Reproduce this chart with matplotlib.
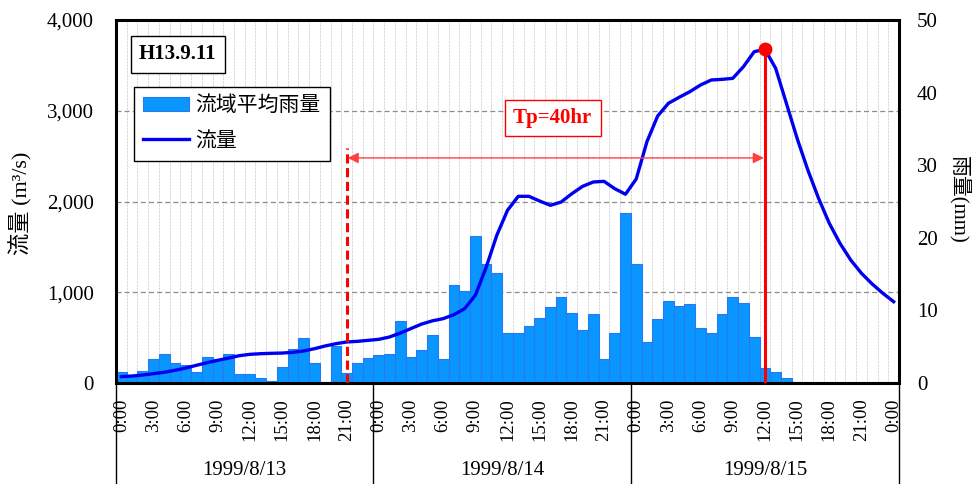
import numpy as np
import matplotlib
matplotlib.use("Agg")
import matplotlib.pyplot as plt
from matplotlib.ticker import FuncFormatter

plt.rcParams['font.family'] = ['Liberation Serif', 'Noto Sans CJK JP']

# hourly data, 1999/8/13 0:00 -> 1999/8/16 0:00
rain = [1.5, 1.1, 1.7, 3.3, 4.0, 2.7, 2.5, 1.55, 3.6, 3.35, 4.0, 1.3,
        1.3, 0.75, 0.3, 2.2, 4.7, 6.2, 2.7, 0.15, 5.1, 1.4, 2.75, 3.4,
        3.8, 3.95, 8.6, 3.6, 4.6, 6.6, 3.3, 13.45, 12.7, 20.3, 16.4, 15.15,
        6.9, 6.9, 7.85, 8.9, 10.4, 11.8, 9.7, 7.25, 9.5, 3.35, 6.9, 23.45,
        16.4, 5.6, 8.8, 11.3, 10.6, 10.85, 7.6, 6.85, 9.45, 11.9, 11.0, 6.3,
        2.1, 1.5, 0.75, 0.15, 0.0, 0.0, 0.0, 0.0, 0.0, 0.0, 0.0, 0.1,
        0.1]
flow = [70, 77, 88, 103, 118, 140, 165, 195, 224, 250, 275, 301,
        316, 323, 327, 330, 338, 353, 378, 408, 433, 452, 459, 470,
        481, 507, 550, 600, 650, 685, 709, 753, 819, 966, 1271, 1627,
        1903, 2057, 2057, 2005, 1958, 1994, 2086, 2167, 2215, 2222, 2141, 2080,
        2248, 2659, 2942, 3082, 3148, 3210, 3284, 3339, 3346, 3357, 3486, 3651,
        3677, 3468, 3082, 2696, 2347, 2035, 1760, 1539, 1355, 1209, 1091, 988,
        896]
hour_labels = ['0:00', '3:00', '6:00', '9:00', '12:00', '15:00', '18:00', '21:00'] * 3 + ['0:00']
days = ['1999/8/13', '1999/8/14', '1999/8/15']
rain_start = 21   # 8/13 21:00
peak_idx = 60     # 8/15 12:00

x = np.arange(len(flow))

fig = plt.figure(figsize=(9.77, 4.84), dpi=100)
ax = fig.add_axes([116 / 977, 101 / 484, 783 / 977, 363 / 484])
ax2 = ax.twinx()
ax.set_zorder(ax2.get_zorder() + 1)
ax.patch.set_visible(False)

# grid (behind bars)
for b in np.arange(0.5, len(x) - 1, 1):
    ax2.axvline(b, color='#d4d4d4', lw=0.6, ls=(0, (3, 1)), zorder=0)
for v in [12.5, 25, 37.5]:
    ax2.axhline(v, color='#8c8c8c', lw=0.9, ls=(0, (4, 2.5)), zorder=0)

bars = ax2.bar(x, rain, width=1.0, color='#0a96ff', edgecolor='#2a78f0', lw=0.8,
               label='流域平均雨量', zorder=2)
ax2.set_ylim(0, 50)
ax2.set_yticks(range(0, 51, 10))
ax2.tick_params(axis='y', length=0, pad=13, labelsize=15)

line, = ax.plot(x, flow, color='#0000f0', lw=2.4, label='流量', zorder=3)
ax.set_xlim(-0.5, len(x) - 0.5)
ax.set_ylim(0, 4000)
ax.set_yticks(range(0, 4001, 1000))
ax.yaxis.set_major_formatter(FuncFormatter(lambda v, p: f'{int(v):,}'))
ax.tick_params(axis='y', length=0, pad=16, labelsize=15)
ax.set_xticks(x[::3])
ax.set_xticklabels(hour_labels, rotation=90, fontsize=13.5)
ax.tick_params(axis='x', length=0, pad=11)
for s in ax.spines.values():
    s.set_linewidth(2.2)
for s in ax2.spines.values():
    s.set_visible(False)

# Tp annotations
ax.plot([x[peak_idx]] * 2, [0, flow[peak_idx]], color='#ff0000', lw=2.2, zorder=4)
ax.plot(x[peak_idx], flow[peak_idx], 'o', color='#ff0000', ms=9, zorder=5)
ax.plot([x[rain_start]] * 2, [0, 2590], color='#ff0000', lw=2.2, ls=(0, (3, 1.5)), zorder=4)
ax.annotate('', xy=(x[rain_start] + 0.1, 2480), xytext=(x[peak_idx] - 0.1, 2480),
            arrowprops=dict(arrowstyle='<|-|>', color='#ff4040', lw=1, mutation_scale=16,
                            shrinkA=0, shrinkB=0), zorder=4)
ax.text(40.2, 2920, 'Tp=40hr', color='#ff0000', fontsize=15, fontweight='bold',
        ha='center', va='center', zorder=6,
        bbox=dict(boxstyle='square,pad=0.4', fc='white', ec='#ff0000', lw=1))

ax.text(0.079, 0.905, 'H13.9.11', transform=ax.transAxes, fontsize=15, fontweight='bold',
        ha='center', va='center', zorder=6,
        bbox=dict(boxstyle='square,pad=0.4', fc='white', ec='black', lw=1))

leg = ax.legend(handles=[bars, line], loc='upper left', bbox_to_anchor=(0.023, 0.815),
                borderaxespad=0, fontsize=15, fancybox=False, framealpha=1,
                edgecolor='black', handlelength=2.2, handletextpad=0.3,
                labelspacing=0.75, borderpad=0.45)
leg.get_frame().set_linewidth(1)
leg.set_zorder(6)

# day separators and labels below the axis
trans = ax.get_xaxis_transform()
for b in [-0.5, 23.5, 47.5, len(x) - 0.5]:
    ax.plot([b, b], [0, -0.28], color='black', lw=1, transform=trans, clip_on=False)
centers = [(-0.5 + 23.5) / 2, (23.5 + 47.5) / 2, (47.5 + len(x) - 0.5) / 2]
for c, d in zip(centers, days):
    ax.text(c, -0.24, d, transform=trans, fontsize=15, ha='center', va='center')

fig.text(21 / 977, 1 - 203 / 484, '流量 (m³/s)', rotation=90, fontsize=16,
         ha='center', va='center')
fig.text(958 / 977, 1 - 200 / 484, '雨量(mm)', rotation=270, fontsize=15,
         ha='center', va='center')

fig.savefig('out.png', dpi=100)
